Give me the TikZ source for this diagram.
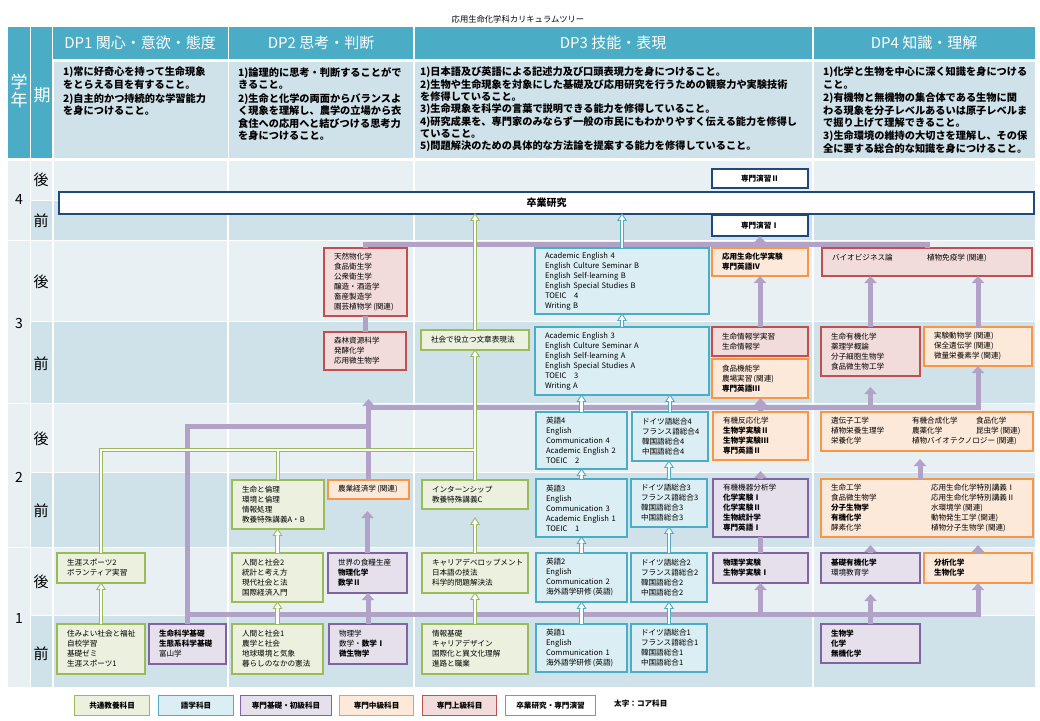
\documentclass[tikz,border=0pt]{standalone}
\usepackage{fontspec}
\setmainfont{Noto Sans CJK JP}
\usetikzlibrary{calc,arrows.meta}
\definecolor{hdr}{HTML}{4BACC6}
\definecolor{rowL}{HTML}{E8F0F4}
\definecolor{rowD}{HTML}{CFE2EA}
\definecolor{gF}{HTML}{EBF1DE}
\definecolor{gB}{HTML}{9BBB59}
\definecolor{bF}{HTML}{DBEEF3}
\definecolor{bB}{HTML}{4BACC6}
\definecolor{pF}{HTML}{E5E0EC}
\definecolor{pB}{HTML}{8064A2}
\definecolor{oF}{HTML}{FDE9D9}
\definecolor{oB}{HTML}{F79646}
\definecolor{rF}{HTML}{F2DCDB}
\definecolor{rB}{HTML}{C0504D}
\definecolor{nvB}{HTML}{1F497D}
\definecolor{purpL}{HTML}{B3A2C7}
\newcommand\bxf{\fontsize{7.6}{10}\selectfont}
\newcommand\cbox[7]{%
  \pgfmathsetmacro\cbW{#5-#3}%
  \pgfmathsetmacro\cbH{#6-#4}%
  \pgfmathsetmacro\cbT{#5-#3-20}%
  \node[#1, anchor=north west, outer sep=0pt, minimum width=\cbW pt, minimum height=\cbH pt, text width=\cbT pt, inner xsep=10pt, inner ysep=0pt] (#2) at (#3,#4) {#7};}
\newcommand\hhead[2]{%
  \fill[white] ($(#2)+(-4.2,6.5)$) -- (#2) -- ($(#2)+(4.2,6.5)$) -- cycle;
  \draw[#1, line width=0.9pt, line join=miter] ($(#2)+(-1.2,6.5)$) -- ($(#2)+(-4.2,6.5)$) -- (#2) -- ($(#2)+(4.2,6.5)$) -- ($(#2)+(1.2,6.5)$);}
\begin{document}
\begin{tikzpicture}[x=1pt,y=-1pt,
  gbox/.style={draw=gB, fill=gF, line width=1.1pt, font=\bxf, align=left},
  bbox/.style={draw=bB, fill=bF, line width=1.1pt, font=\bxf, align=left},
  pbox/.style={draw=pB, fill=pF, line width=1.1pt, font=\bxf, align=left},
  obox/.style={draw=oB, fill=oF, line width=1.1pt, font=\bxf, align=left},
  rbox/.style={draw=rB, fill=rF, line width=1.1pt, font=\bxf, align=left},
  nbox/.style={draw=nvB, fill=white, line width=1.1pt, font=\bxf\bfseries, align=center},
  lgbox/.style={line width=1.1pt, font=\bxf\bfseries, align=center, inner sep=0pt, minimum height=20pt, anchor=north west},
  desc/.style={font=\bfseries\fontsize{10.2}{12.3}\selectfont, align=left, inner sep=0pt, anchor=north west},
  hdrtxt/.style={text=white, font=\fontsize{15}{18}\selectfont, inner sep=0pt},
  lab/.style={font=\fontsize{15}{18}\selectfont, inner sep=0pt},
  yr/.style={font=\fontsize{14}{16}\selectfont, inner sep=0pt},
  pline/.style={draw=purpL, line width=5pt, line join=miter},
  parrow/.style={pline, -{Triangle[length=7pt,width=12pt]}}]
\useasboundingbox (0,0) rectangle (1040,720);
\fill[white] (0,0) rectangle (1040,720);
% ---------- header ----------
\node[font=\fontsize{8.3}{10}\selectfont, inner sep=0pt] (title) at (518,19) {応用生命化学科カリキュラムツリー};
\fill[hdr] (8,27) rectangle (29.5,158);
\fill[hdr] (31,27) rectangle (52,158);
\fill[hdr] (53,27) rectangle (227.5,59);
\fill[hdr] (229,27) rectangle (413,59);
\fill[hdr] (415,27) rectangle (812,59);
\fill[hdr] (814,27) rectangle (1035,59);
\fill[rowD] (54,62) rectangle (227.5,158);
\fill[rowD] (229,62) rectangle (413,158);
\fill[rowD] (415,62) rectangle (812,158);
\fill[rowD] (814,62) rectangle (1035,158);
\node[text=white, font=\fontsize{17}{18.5}\selectfont, align=center, inner sep=0pt] (gakunen) at (19,91) {学\\年};
\node[text=white, font=\fontsize{17}{18.5}\selectfont, inner sep=0pt] (ki) at (42,95) {期};
\node[hdrtxt] (dp1) at (140,43) {DP1 関心・意欲・態度};
\node[hdrtxt] (dp2) at (321,43) {DP2 思考・判断};
\node[hdrtxt] (dp3) at (613,43) {DP3 技能・表現};
\node[hdrtxt] (dp4) at (924,43) {DP4 知識・理解};
\node[desc] (d1) at (63,67) {1)常に好奇心を持って生命現象\\をとらえる目を有すること。\\[1.7pt]2)自主的かつ持続的な学習能力\\を身につけること。};
\node[desc] (d2) at (238,67) {1)論理的に思考・判断することがで\\きること。\\[1.7pt]2)生命と化学の両面からバランスよ\\く現象を理解し、農学の立場から衣\\食住への応用へと結びつける思考力\\を身につけること。};
\node[desc] (d3) at (420,67) {1)日本語及び英語による記述力及び口頭表現力を身につけること。\\2)生物や生命現象を対象にした基礎及び応用研究を行うための観察力や実験技術\\を修得していること。\\3)生命現象を科学の言葉で説明できる能力を修得していること。\\4)研究成果を、専門家のみならず一般の市民にもわかりやすく伝える能力を修得し\\ていること。\\5)問題解決のための具体的な方法論を提案する能力を修得していること。};
\node[desc] (d4) at (823,67) {1)化学と生物を中心に深く知識を身につける\\こと。\\[1.2pt]2)有機物と無機物の集合体である生物に関\\わる現象を分子レベルあるいは原子レベルま\\で掘り上げて理解できること。\\[1.2pt]3)生命環境の維持の大切さを理解し、その保\\全に要する総合的な知識を身につけること。};
% ---------- grid ----------
\foreach \ya/\yb/\cc in {161/199.5/rowL, 201/239.5/rowD, 241/320.5/rowL, 322/402.5/rowD, 404/471.5/rowL, 473/546.5/rowD, 548/614.5/rowL, 616/687/rowD}
  \fill[\cc] (31,\ya) rectangle (1035,\yb);
\foreach \ya/\yb in {161/239.5, 241/402.5, 404/546.5, 548/687}
  \fill[rowL] (8,\ya) rectangle (29.5,\yb);
\foreach \xx in {53,228,414,813}
  \draw[white, line width=1.8pt] (\xx,161) -- (\xx,687);
\node[yr] (y4) at (19,200) {4};
\node[yr] (y3) at (19,324) {3};
\node[yr] (y2) at (19,477) {2};
\node[yr] (y1) at (19,618) {1};
\node[lab] (s4b) at (41,180) {後};
\node[lab] (s4f) at (41,221) {前};
\node[lab] (s3b) at (41,282) {後};
\node[lab] (s3f) at (41,364) {前};
\node[lab] (s2b) at (41,439) {後};
\node[lab] (s2f) at (41,511) {前};
\node[lab] (s1b) at (41,582) {後};
\node[lab] (s1f) at (41,654) {前};
% ---------- year 4 ----------
\cbox{nbox, font=\fontsize{10}{12}\selectfont\bfseries}{sotsu}{59}{192}{1034}{214}{卒業研究}
\cbox{nbox}{en2}{712}{169}{808}{188}{専門演習Ⅱ}
\cbox{nbox}{en1}{712}{215}{808}{236}{専門演習Ⅰ}
% ---------- year 3 ----------
\cbox{rbox}{tennen}{324}{248}{407}{316}{天然物化学\\食品衛生学\\公衆衛生学\\醸造・酒造学\\畜産製造学\\園芸植物学\,(関連)}
\cbox{bbox}{ae4}{535}{248}{709}{314}{Academic English 4\\English Culture Seminar B\\English Self-learning B\\English Special Studies B\\TOEIC\quad 4\\Writing B}
\cbox{obox}{ouyou}{712}{248}{808}{276}{\textbf{応用生命化学実験}\\\textbf{専門英語Ⅳ}}
\cbox{rbox}{bio}{822}{248}{1032}{276}{\makebox[95pt][l]{バイオビジネス論}植物免疫学\,(関連)\\\mbox{}}
\cbox{rbox}{shinrin}{324}{332}{406}{370}{森林資源科学\\発酵化学\\応用微生物学}
\cbox{gbox}{shakai}{421}{330}{529}{350}{社会で役立つ文章表現法}
\cbox{bbox}{ae3}{535}{327}{709}{395}{Academic English 3\\English Culture Seminar A\\English Self-learning A\\English Special Studies A\\TOEIC\quad 3\\Writing A}
\cbox{rbox}{jouhou}{712}{327}{808}{356}{生命情報学実習\\生命情報学}
\cbox{obox}{kinou}{712}{359}{808}{398}{食品機能学\\農場実習\,(関連)\\\textbf{専門英語Ⅲ}}
\cbox{rbox}{yuuki3}{821}{327}{920}{376}{生命有機化学\\薬理学概論\\分子細胞生物学\\食品微生物工学}
\cbox{obox}{jikken}{924}{327}{1032}{366}{実験動物学\,(関連)\\保全遺伝学\,(関連)\\微量栄養素学\,(関連)}
% ---------- year 2 ----------
\cbox{bbox}{eigo4}{536}{412}{627}{469}{英語4\\English\\Communication 4\\Academic English 2\\TOEIC\quad 2}
\cbox{bbox}{ger4}{632}{412}{708}{461}{ドイツ語総合4\\フランス語総合4\\韓国語総合4\\中国語総合4}
\cbox{obox}{hannou}{713}{412}{808}{460}{有機反応化学\\\textbf{生物学実験Ⅱ}\\\textbf{生物学実験Ⅲ}\\\textbf{専門英語Ⅱ}}
\cbox{obox}{idenshi}{821}{412}{1033}{451}{\makebox[81pt][l]{遺伝子工学}\makebox[64pt][l]{有機合成化学}食品化学\\\makebox[81pt][l]{植物栄養生理学}\makebox[64pt][l]{農薬化学}昆虫学\,(関連)\\\makebox[81pt][l]{栄養化学}植物バイオテクノロジー\,(関連)}
\cbox{gbox}{rinri}{232}{480}{324}{529}{生命と倫理\\環境と倫理\\情報処理\\教養特殊講義A・B}
\cbox{obox}{nougyou}{328}{480}{409}{499}{農業経済学\,(関連)}
\cbox{gbox}{intern}{422}{480}{528}{509}{インターンシップ\\教養特殊講義C}
\cbox{bbox}{eigo3}{536}{479}{627}{537}{英語3\\English\\Communication 3\\Academic English 1\\TOEIC\quad 1}
\cbox{bbox}{ger3}{631}{479}{707}{527}{ドイツ語総合3\\フランス語総合3\\韓国語総合3\\中国語総合3}
\cbox{pbox}{kiki}{713}{479}{808}{537}{有機機器分析学\\\textbf{化学実験Ⅰ}\\\textbf{化学実験Ⅱ}\\\textbf{生物統計学}\\\textbf{専門英語Ⅰ}}
\cbox{obox}{kougaku}{821}{479}{1033}{537}{\makebox[100pt][l]{生命工学}応用生命化学特別講義Ⅰ\\\makebox[100pt][l]{食品微生物学}応用生命化学特別講義Ⅱ\\\makebox[100pt][l]{\textbf{分子生物学}}水環境学\,(関連)\\\makebox[100pt][l]{\textbf{有機化学}}動物発生工学\,(関連)\\\makebox[100pt][l]{酵素化学}植物分子生物学\,(関連)}
% ---------- year 1 ----------
\cbox{gbox}{sports2}{57}{553}{145}{583}{生涯スポーツ2\\ボランティア実習}
\cbox{gbox}{ningen2}{232}{553}{323}{602}{人間と社会2\\統計と考え方\\現代社会と法\\国際経済入門}
\cbox{pbox}{sekai}{328}{553}{407}{593}{世界の食糧生産\\\textbf{物理化学}\\\textbf{数学Ⅱ}}
\cbox{gbox}{career}{422}{553}{528}{593}{キャリアデベロップメント\\日本語の技法\\科学的問題解決法}
\cbox{bbox}{eigo2}{536}{553}{627}{602}{英語2\\English\\Communication 2\\海外語学研修\,(英語)}
\cbox{bbox}{ger2}{631}{553}{707}{602}{ドイツ語総合2\\フランス語総合2\\韓国語総合2\\中国語総合2}
\cbox{pbox}{butsujikken}{713}{553}{808}{583}{\textbf{物理学実験}\\\textbf{生物学実験Ⅰ}}
\cbox{pbox}{kisoyuuki}{821}{553}{920}{583}{\textbf{基礎有機化学}\\環境教育学}
\cbox{obox}{bunseki}{924}{553}{1032}{583}{\textbf{分析化学}\\\textbf{生物化学}}
\cbox{gbox}{sumiyoi}{57}{624}{145}{674}{住みよい社会と福祉\\自校学習\\基礎ゼミ\\生涯スポーツ1}
\cbox{pbox}{seimei}{149}{624}{226}{664}{\textbf{生命科学基礎}\\\textbf{生態系科学基礎}\\富山学}
\cbox{gbox}{ningen1}{232}{624}{323}{674}{人間と社会1\\農学と社会\\地球環境と気象\\暮らしのなかの憲法}
\cbox{pbox}{butsuri}{329}{624}{407}{664}{物理学\\数学・\textbf{数学Ⅰ}\\\textbf{微生物学}}
\cbox{gbox}{jouhoukiso}{422}{624}{528}{674}{情報基礎\\キャリアデザイン\\国際化と異文化理解\\進路と職業}
\cbox{bbox}{eigo1}{536}{624}{627}{672}{英語1\\English\\Communication 1\\海外語学研修\,(英語)}
\cbox{bbox}{ger1}{631}{624}{707}{672}{ドイツ語総合1\\フランス語総合1\\韓国語総合1\\中国語総合1}
\cbox{pbox}{seibutsu}{821}{624}{920}{663}{\textbf{生物学}\\\textbf{化学}\\\textbf{無機化学}}
% ---------- legend ----------
\node[lgbox, draw=gB, fill=gF, minimum width=75pt] (lg1) at (74,695) {共通教養科目};
\node[lgbox, draw=bB, fill=bF, minimum width=75pt] (lg2) at (158,695) {語学科目};
\node[lgbox, draw=pB, fill=pF, minimum width=91pt] (lg3) at (240,695) {専門基礎・初級科目};
\node[lgbox, draw=oB, fill=oF, minimum width=74pt] (lg4) at (339,695) {専門中級科目};
\node[lgbox, draw=rB, fill=rF, minimum width=74pt] (lg5) at (422,695) {専門上級科目};
\node[lgbox, draw=bB, fill=white, minimum width=90pt] (lg6) at (505,695) {卒業研究・専門演習};
\node[font=\bxf\bfseries, anchor=west, inner sep=0pt] (note) at (614,704) {太字：コア科目};
% ---------- purple connectors ----------
\coordinate (jA) at (nougyou.north |- 0,426);
\coordinate (bBl) at (nougyou.north |- 0,407);
\coordinate (bBr) at (jikken.south |- 0,407);
\coordinate (bAr) at ($(bio.north west)+(105,-4)$);
\coordinate (bCl) at (seimei.north |- 0,614);
\draw[pline] (seimei.north) |- (jA);
\draw[parrow] (nougyou.north) -- (nougyou.north |- 0,399);
\draw[pline, line cap=rect] (bBl) -- (bBr);
\draw[parrow] (hannou.north) -- (hannou.north |- kinou.south);
\draw[parrow] (yuuki3.south |- bBl) -- ($(yuuki3.south)+(0,11)$);
\draw[parrow] (bBr) -- (jikken.south);
\draw[parrow] (jouhou.north) -- (jouhou.north |- ouyou.south);
\draw[parrow] (yuuki3.north) -- (yuuki3.north |- bio.south);
\draw[parrow] (jikken.north) -- (jikken.north |- bio.south);
\draw[parrow] (ouyou.north) -- (ouyou.north |- en1.south);
\draw[pline] (shinrin.north) -- (shinrin.north |- tennen.south);
\draw[pline] (tennen.north) |- (bAr) -- (bAr |- bio.north);
\draw[parrow] (kiki.north) -- ++(0,-8);
\draw[parrow] ($(kougaku.north)+(-7,0)$) -- ++(0,-20);
\draw[parrow] (bCl) -| (bunseki.south);
\draw[parrow] (seibutsu.north) -- ($(kisoyuuki.south)+(0,11)$);
\draw[parrow] (butsujikken.south |- bCl) -- (butsujikken.south);
\draw[pline] (butsujikken.north) -- (butsujikken.north |- kiki.south);
\draw[parrow] (kisoyuuki.north) -- ++(0,-8);
\draw[parrow] (bunseki.north) -- ++(0,-8);
\draw[parrow] (butsuri.north) -- (butsuri.north |- sekai.south);
\draw[parrow] (sekai.north) -- ($(sekai.north |- nougyou.south)+(0,12)$);
% ---------- green connectors ----------
\coordinate (gJ) at (intern.north |- 0,450);
\coordinate (gt1) at (sumiyoi.north |- sports2.south);
\coordinate (gt2) at (ningen2.north |- rinri.south);
\coordinate (gt3) at (ningen1.north |- ningen2.south);
\coordinate (gt4) at ($(career.north |- intern.south)+(0,9)$);
\coordinate (gt5) at (jouhoukiso.north |- career.south);
\coordinate (gt6) at (intern.north |- shakai.south);
\coordinate (gt7) at (shakai.north |- sotsu.south);
\foreach \lw/\lc in {4.2pt/gB, 2.2pt/white} {
  \draw[line width=\lw, draw=\lc] (sumiyoi.north) -- ($(gt1)+(0,6)$);
  \draw[line width=\lw, draw=\lc, line join=miter] (sports2.north) |- (gJ);
  \draw[line width=\lw, draw=\lc] (rinri.north) -- (rinri.north |- gJ);
  \draw[line width=\lw, draw=\lc] (ningen2.north) -- ($(gt2)+(0,6)$);
  \draw[line width=\lw, draw=\lc] (ningen1.north) -- ($(gt3)+(0,6)$);
  \draw[line width=\lw, draw=\lc] (career.north) -- ($(gt4)+(0,6)$);
  \draw[line width=\lw, draw=\lc] (jouhoukiso.north) -- ($(gt5)+(0,6)$);
  \draw[line width=\lw, draw=\lc] (intern.north) -- ($(gt6)+(0,6)$);
  \draw[line width=\lw, draw=\lc] (shakai.north) -- ($(gt7)+(0,6)$);
}
\foreach \tp in {gt1,gt2,gt3,gt4,gt5,gt6,gt7} { \hhead{gB}{\tp} }
% ---------- blue connectors ----------
\coordinate (bt1) at (eigo1.north |- eigo2.south);
\coordinate (bt2) at (eigo2.north |- eigo3.south);
\coordinate (bt3) at (eigo3.north |- eigo4.south);
\coordinate (bt4) at (eigo4.north |- ae3.south);
\coordinate (bt5) at (ae3.north |- ae4.south);
\coordinate (bt6) at (ae4.north |- sotsu.south);
\coordinate (bt7) at (ger1.north |- ger2.south);
\coordinate (bt8) at (ger2.north |- ger3.south);
\coordinate (bt9) at (ger3.north |- ger4.south);
\coordinate (bt10) at (ger4.north |- ae3.south);
\foreach \lw/\lc in {4.2pt/bB, 2.2pt/white} {
  \draw[line width=\lw, draw=\lc] (eigo1.north) -- ($(bt1)+(0,6)$);
  \draw[line width=\lw, draw=\lc] (eigo2.north) -- ($(bt2)+(0,6)$);
  \draw[line width=\lw, draw=\lc] (eigo3.north) -- ($(bt3)+(0,6)$);
  \draw[line width=\lw, draw=\lc] (eigo4.north) -- ($(bt4)+(0,6)$);
  \draw[line width=\lw, draw=\lc] (ae3.north) -- ($(bt5)+(0,6)$);
  \draw[line width=\lw, draw=\lc] (ae4.north) -- ($(bt6)+(0,6)$);
  \draw[line width=\lw, draw=\lc] (ger1.north) -- ($(bt7)+(0,6)$);
  \draw[line width=\lw, draw=\lc] (ger2.north) -- ($(bt8)+(0,6)$);
  \draw[line width=\lw, draw=\lc] (ger3.north) -- ($(bt9)+(0,6)$);
  \draw[line width=\lw, draw=\lc] (ger4.north) -- ($(bt10)+(0,6)$);
}
\foreach \tp in {bt1,bt2,bt3,bt4,bt5,bt6,bt7,bt8,bt9,bt10} { \hhead{bB}{\tp} }
\end{tikzpicture}
\end{document}
